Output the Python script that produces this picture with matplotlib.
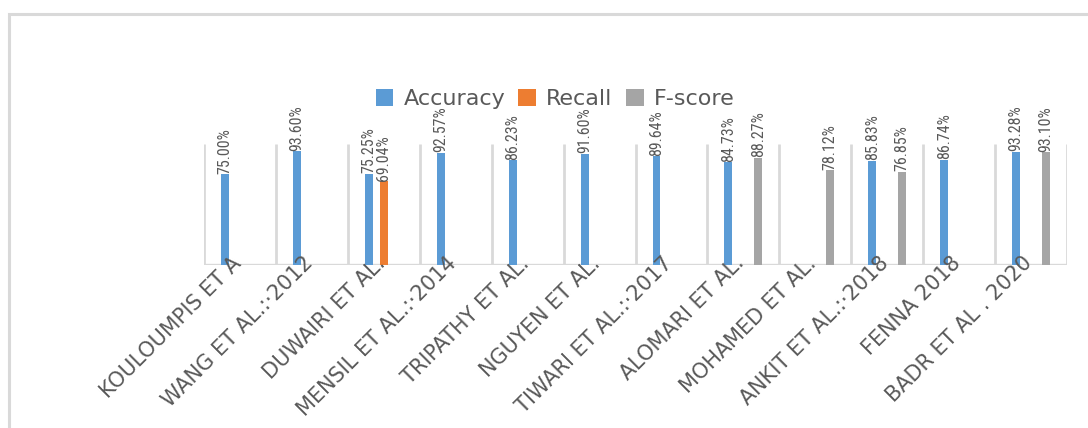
import numpy as np
import matplotlib
matplotlib.use("Agg")
import matplotlib.pyplot as plt
from matplotlib import font_manager
from matplotlib.patches import Rectangle
import matplotlib.transforms as mtransforms

# ---- data ----
categories = ["KOULOUMPIS ET A", "WANG ET AL.:\u00b72012", "DUWAIRI ET AL.",
              "MENSIL ET AL.:\u00b72014", "TRIPATHY ET AL.", "NGUYEN ET AL.",
              "TIWARI ET AL.:\u00b72017", "ALOMARI ET AL.", "MOHAMED ET AL.",
              "ANKIT ET AL.:\u00b72018", "FENNA 2018", "BADR ET AL . 2020"]
series_names = ["Accuracy", "Recall", "F-score"]
accuracy = [75.00, 93.60, 75.25, 92.57, 86.23, 91.60, 89.64, 84.73, np.nan, 85.83, 86.74, 93.28]
recall = [np.nan, np.nan, 69.04, np.nan, np.nan, np.nan, np.nan, np.nan, np.nan, np.nan, np.nan, np.nan]
fscore = [np.nan, np.nan, np.nan, np.nan, np.nan, np.nan, np.nan, 88.27, 78.12, 76.85, np.nan, 93.10]
colors = ["#5B9BD5", "#ED7D31", "#A5A5A5"]

available = {f.name for f in font_manager.fontManager.ttflist}
def pick(cands):
    for c in cands:
        if c in available:
            return c
    return "DejaVu Sans"
narrow = pick(["Liberation Sans Narrow", "DejaVu Sans Condensed", "Roboto Condensed", "Liberation Sans"])
label_size = 14.5 if narrow == "Liberation Sans Narrow" else 11.5

W, H = 1088, 428
fig = plt.figure(figsize=(W / 100, H / 100), dpi=100)
fig.patch.set_facecolor("white")

# outer chart border
fig.patches.append(Rectangle((9 / W, -0.1), 1.2, (H - 14) / H + 0.1,
                             transform=fig.transFigure, fill=False,
                             edgecolor="#d9d9d9", linewidth=2.2, zorder=0))

x0, x1 = 204, 1067
y_bot, y_top = 265, 143.5
ax = fig.add_axes([x0 / W, 1 - y_bot / H, (x1 - x0) / W, (y_bot - y_top) / H])
ax.set_xlim(-0.5, len(categories) - 0.5)
ax.set_ylim(0, 100)
ax.axis("off")

# vertical category gridlines
for b in np.arange(-0.5, len(categories), 1.0):
    ax.plot([b, b], [0, 100], color="#d9d9d9", lw=2.0, zorder=1, solid_capstyle="butt")
ax.plot([-0.5, len(categories) - 0.5], [0, 0], color="#d9d9d9", lw=2.4, zorder=1,
        solid_capstyle="projecting")

xs = np.arange(len(categories))
offsets = [-0.208, 0.0, 0.208]
width = 0.11
for vals, off, col, name in zip([accuracy, recall, fscore], offsets, colors, series_names):
    vals = np.array(vals, dtype=float)
    ax.bar(xs + off, np.nan_to_num(vals), width=width, color=col, zorder=2, label=name)
    for xi, v in zip(xs, vals):
        if not np.isnan(v):
            ax.text(xi + off, v + 0.3, f"{v:.2f}%", rotation=90, ha="center", va="bottom",
                    fontsize=label_size, color="#595959", family=narrow, zorder=4)

# category labels, rotated 45 degrees
trans = ax.get_xaxis_transform()
for xi, lab in zip(xs, categories):
    t = trans + mtransforms.ScaledTranslation(-2 / 100, 5 / 100, fig.dpi_scale_trans)
    ax.text(xi, 0, lab, rotation=45, ha="right", va="center", rotation_mode="anchor",
            transform=t, fontsize=15, color="#595959", family="DejaVu Sans", zorder=5,
            clip_on=False)

handles, labels = ax.get_legend_handles_labels()
leg = fig.legend(handles, labels, loc="center", bbox_to_anchor=(555 / W, 1 - 99 / H),
                 ncol=3, frameon=False, fontsize=16, handlelength=0.8, handleheight=0.8,
                 handletextpad=0.45, columnspacing=0.6, labelcolor="#595959")

fig.savefig("out.png", dpi=100, facecolor="white")
